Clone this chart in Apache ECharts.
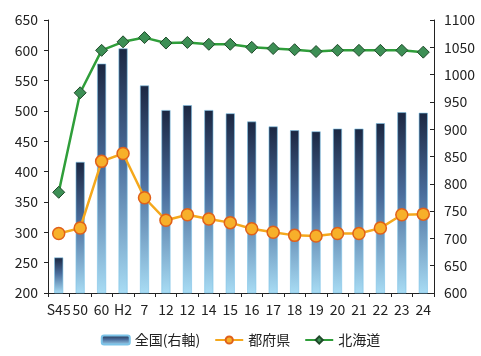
<!DOCTYPE html>
<html>
<head>
<meta charset="utf-8">
<script src="https://cdn.jsdelivr.net/npm/echarts@6/dist/echarts.min.js"></script>
<style>
    html, body { margin: 0; padding: 0; background: #fff; }
    #chart { width: 481px; height: 356px; }
</style>
</head>
<body>
<div id="chart"></div>
<script>
// Data
const categories = ['S45', '50', '60', 'H2', '7', '12', '12', '14', '15', '16', '17', '18', '19', '20', '21', '22', '23', '24'];
const zenkoku = [665, 840, 1020, 1048, 980, 935, 944, 935, 929, 914, 905, 898, 896, 901, 901, 911, 931, 930];
const tofuken = [298, 307, 417, 430, 357, 320, 329, 322, 316, 306, 300, 295, 294, 298, 298, 307, 329, 330];
const hokkaido = [366, 530, 600, 614, 621, 612, 613, 610, 610, 605, 603, 601, 598, 600, 600, 600, 600, 597];

const chart = echarts.init(document.getElementById('chart'));

const font = '"Noto Sans CJK JP", "Noto Sans", sans-serif';

const option = {
    backgroundColor: '#fff',
    animation: false,
    textStyle: { fontFamily: font },
    grid: { left: 48, right: 47, top: 20, bottom: 63 },
    legend: {
        bottom: 4,
        left: 'center',
        itemGap: 14,
        itemWidth: 28,
        itemHeight: 9,
        textStyle: { fontSize: 14, color: '#222', fontFamily: font },
        data: ['全国(右軸)', '都府県', '北海道']
    },
    xAxis: {
        type: 'category',
        data: categories,
        axisLine: { lineStyle: { color: '#222' } },
        axisTick: { show: true, length: 4, lineStyle: { color: '#222' } },
        axisLabel: { fontSize: 14, color: '#222', interval: 0, margin: 10 },
        splitLine: { show: false }
    },
    yAxis: [
        {
            type: 'value',
            min: 200, max: 650, interval: 50,
            axisLine: { show: true, lineStyle: { color: '#222' } },
            axisTick: { show: true, length: 4 },
            axisLabel: { fontSize: 14, color: '#222', margin: 10 },
            splitLine: { show: false }
        },
        {
            type: 'value',
            min: 600, max: 1100, interval: 50,
            position: 'right',
            axisLine: { show: true, lineStyle: { color: '#222' } },
            axisTick: { show: true, length: 4, inside: true },
            axisLabel: { fontSize: 14, color: '#222', margin: 10, formatter: v => String(v) },
            splitLine: { show: false }
        }
    ],
    series: [
        {
            name: '全国(右軸)',
            type: 'bar',
            yAxisIndex: 1,
            barWidth: 9,
            data: zenkoku,
            itemStyle: {
                color: new echarts.graphic.LinearGradient(0, 0, 0, 1, [
                    { offset: 0, color: '#1b2742' },
                    { offset: 0.45, color: '#4a6d9c' },
                    { offset: 1, color: '#a8dcf4' }
                ]),
                borderColor: '#7cc3e8',
                borderWidth: 0.6
            }
        },
        {
            name: '都府県',
            type: 'line',
            yAxisIndex: 0,
            data: tofuken,
            symbol: 'circle',
            symbolSize: 12,
            lineStyle: { color: '#f5a81c', width: 2.5 },
            itemStyle: { color: '#f7b02a', borderColor: '#e0601a', borderWidth: 1.5 },
            z: 3
        },
        {
            name: '北海道',
            type: 'line',
            yAxisIndex: 0,
            data: hokkaido,
            symbol: 'diamond',
            symbolSize: 12,
            lineStyle: { color: '#2f9e3a', width: 2.5 },
            itemStyle: { color: '#3d8f55', borderColor: '#1f4a2a', borderWidth: 1 },
            z: 4
        }
    ]
};

chart.setOption(option);
</script>
</body>
</html>
